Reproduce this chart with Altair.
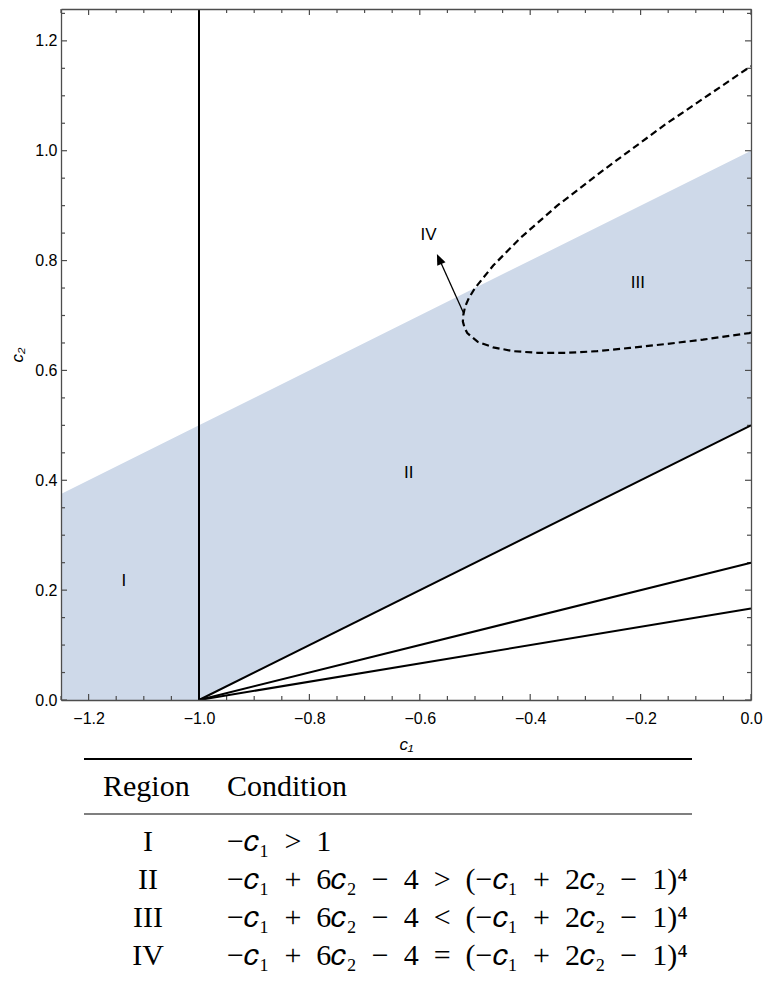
import altair as alt
import pandas as pd

# ---------------- data ----------------
band_c1 = [-1.25, -1.0, 0.0]
band_lower = [0.0, 0.0, 0.5]
band_upper = [0.375, 0.5, 1.0]

boundary_c1 = [-1.0]

ray_start_c1 = -1.0
ray_start_c2 = 0.0
ray_end_c1 = [0.0, 0.0, 0.0]
ray_end_c2 = [0.5, 0.25, 0.1667]

curve_c1 = [0.0, -0.0033, -0.0175, -0.087, -0.155, -0.219, -0.279, -0.335, -0.386,
            -0.430, -0.467, -0.495, -0.514, -0.519, -0.522, -0.521, -0.518, -0.511,
            -0.500, -0.467, -0.418, -0.351, -0.263, -0.155, -0.022, 0.0]
curve_c2 = [0.669, 0.668, 0.666, 0.656, 0.648, 0.641, 0.635, 0.632, 0.632,
            0.635, 0.642, 0.652, 0.668, 0.678, 0.689, 0.702, 0.716, 0.732,
            0.750, 0.791, 0.841, 0.900, 0.968, 1.048, 1.139, 1.154]

arrow_c1 = [-0.521, -0.564]
arrow_c2 = [0.705, 0.801]
arrow_tip_c1 = [-0.569]
arrow_tip_c2 = [0.812]

label_text = ["I", "II", "III", "IV"]
label_c1 = [-1.136, -0.620, -0.205, -0.584]
label_c2 = [0.217, 0.413, 0.759, 0.846]

x_major = [-1.2, -1.0, -0.8, -0.6, -0.4, -0.2, 0.0]
x_minor = [-1.25, -1.15, -1.1, -1.05, -0.95, -0.9, -0.85, -0.75, -0.7, -0.65,
           -0.55, -0.5, -0.45, -0.35, -0.3, -0.25, -0.15, -0.1, -0.05]
y_major = [0.0, 0.2, 0.4, 0.6, 0.8, 1.0, 1.2]
y_minor = [0.05, 0.1, 0.15, 0.25, 0.3, 0.35, 0.45, 0.5, 0.55, 0.65, 0.7, 0.75,
           0.85, 0.9, 0.95, 1.05, 1.1, 1.15, 1.25]

table_header = ["Region", "Condition"]
table_regions = ["I", "II", "III", "IV"]
C = "\U0001D450"
SP = "\u2002"
table_conditions = [
    f"\u2212{C}\u2081{SP}>{SP}1",
    f"\u2212{C}\u2081{SP}+{SP}6{C}\u2082{SP}\u2212{SP}4{SP}>{SP}(\u2212{C}\u2081{SP}+{SP}2{C}\u2082{SP}\u2212{SP}1)\u2074",
    f"\u2212{C}\u2081{SP}+{SP}6{C}\u2082{SP}\u2212{SP}4{SP}<{SP}(\u2212{C}\u2081{SP}+{SP}2{C}\u2082{SP}\u2212{SP}1)\u2074",
    f"\u2212{C}\u2081{SP}+{SP}6{C}\u2082{SP}\u2212{SP}4{SP}={SP}(\u2212{C}\u2081{SP}+{SP}2{C}\u2082{SP}\u2212{SP}1)\u2074",
]

# ---------------- frames ----------------
band_df = pd.DataFrame({"c1": band_c1, "lo": band_lower, "hi": band_upper})
vline_df = pd.DataFrame({"c1": boundary_c1})
ray_rows = []
for i, (ex, ey) in enumerate(zip(ray_end_c1, ray_end_c2)):
    ray_rows.append({"ray": i, "c1": ray_start_c1, "c2": ray_start_c2})
    ray_rows.append({"ray": i, "c1": ex, "c2": ey})
ray_df = pd.DataFrame(ray_rows)
curve_df = pd.DataFrame({"c1": curve_c1, "c2": curve_c2, "k": list(range(len(curve_c1)))})
arrow_df = pd.DataFrame({"c1": arrow_c1, "c2": arrow_c2})
tip_df = pd.DataFrame({"c1": arrow_tip_c1, "c2": arrow_tip_c2})
label_df = pd.DataFrame({"c1": label_c1, "c2": label_c2, "t": label_text})
dummy_df = pd.DataFrame({"c1": [-1.0], "c2": [0.0]})
table_df = pd.DataFrame({"row": list(range(len(table_regions))),
                         "region": table_regions, "cond": table_conditions})

W, H = 690, 691
FRAME = "#4d4d4d"
SANS = "Liberation Sans"
SERIF = "Liberation Serif"
MAJ, MIN = 6, 4

xs = alt.Scale(domain=[-1.25, 0.0], nice=False, zero=False)
ys = alt.Scale(domain=[0.0, 1.258], nice=False, zero=False)

ax_x_labels = alt.Axis(orient="bottom", values=x_major, format=".1f", ticks=False,
                       domain=True, domainColor=FRAME, domainWidth=1.3, grid=False, zindex=1,
                       labelFont=SANS, labelFontSize=16, labelColor="black",
                       labelPadding=10, labelFlush=False, title="c\u2081",
                       titleFont=SANS, titleFontStyle="italic", titleFontWeight="normal",
                       titleFontSize=17, titleColor="black", titlePadding=10)
ax_y_labels = alt.Axis(orient="left", values=y_major, format=".1f", ticks=False,
                       domain=True, domainColor=FRAME, domainWidth=1.3, grid=False, zindex=1,
                       labelFont=SANS, labelFontSize=16, labelColor="black",
                       labelPadding=4, title="c\u2082",
                       titleFont=SANS, titleFontStyle="italic", titleFontWeight="normal",
                       titleFontSize=17, titleColor="black", titlePadding=8)
ax_x_top = alt.Axis(orient="top", ticks=False, labels=False, domain=True, domainColor=FRAME,
                    domainWidth=1.3, grid=False, zindex=1, title=None)
ax_y_right = alt.Axis(orient="right", ticks=False, labels=False, domain=True, domainColor=FRAME,
                      domainWidth=1.3, grid=False, zindex=1, title=None)

band = alt.Chart(band_df).mark_area(color="#ced9e9", opacity=1).encode(
    x=alt.X("c1:Q", scale=xs, axis=ax_x_labels),
    y=alt.Y("lo:Q", scale=ys, axis=ax_y_labels),
    y2="hi:Q",
)

frame_carrier = alt.Chart(dummy_df).mark_point(opacity=0, size=1).encode(
    x=alt.X("c1:Q", scale=xs, axis=ax_x_top),
    y=alt.Y("c2:Q", scale=ys, axis=ax_y_right),
)


def xticks(values, at_top, length):
    df = pd.DataFrame({"v": values})
    y0, y1 = (0, length) if at_top else (H, H - length)
    return alt.Chart(df).mark_rule(color=FRAME, strokeWidth=1.2).encode(
        x=alt.X("v:Q", scale=xs, axis=None), y=alt.value(y0), y2=alt.value(y1))


def yticks(values, at_right, length):
    df = pd.DataFrame({"v": values})
    x0, x1 = (W, W - length) if at_right else (0, length)
    return alt.Chart(df).mark_rule(color=FRAME, strokeWidth=1.2).encode(
        y=alt.Y("v:Q", scale=ys, axis=None), x=alt.value(x0), x2=alt.value(x1))


tick_layers = [
    xticks(x_major, False, MAJ), xticks(x_minor, False, MIN),
    xticks(x_major, True, MAJ), xticks(x_minor, True, MIN),
    yticks(y_major, False, MAJ), yticks(y_minor, False, MIN),
    yticks(y_major, True, MAJ), yticks(y_minor, True, MIN),
]

vline = alt.Chart(vline_df).mark_rule(color="black", strokeWidth=2).encode(
    x=alt.X("c1:Q", scale=xs, axis=None)
)

rays = alt.Chart(ray_df).mark_line(color="black", strokeWidth=2).encode(
    x=alt.X("c1:Q", scale=xs, axis=None),
    y=alt.Y("c2:Q", scale=ys, axis=None),
    detail="ray:N",
)

curve = alt.Chart(curve_df).mark_line(color="black", strokeWidth=2.2, strokeDash=[7, 4]).encode(
    x=alt.X("c1:Q", scale=xs, axis=None),
    y=alt.Y("c2:Q", scale=ys, axis=None),
    order="k:Q",
)

arrow = alt.Chart(arrow_df).mark_line(color="black", strokeWidth=1.3).encode(
    x=alt.X("c1:Q", scale=xs, axis=None),
    y=alt.Y("c2:Q", scale=ys, axis=None),
)

tip = alt.Chart(tip_df).mark_point(shape="M0,0L0.45,1.1L-0.45,1.1Z", size=400, angle=336,
                                   filled=True, color="black", opacity=1).encode(
    x=alt.X("c1:Q", scale=xs, axis=None),
    y=alt.Y("c2:Q", scale=ys, axis=None),
)

labels = alt.Chart(label_df).mark_text(font=SANS, fontSize=17, color="black").encode(
    x=alt.X("c1:Q", scale=xs, axis=None),
    y=alt.Y("c2:Q", scale=ys, axis=None),
    text="t:N",
)

plot = alt.layer(band, frame_carrier, *tick_layers, vline, rays, curve, arrow, tip, labels).resolve_axis(
    x="independent", y="independent"
).properties(width=W, height=H)

# ---------------- table ----------------
one = pd.DataFrame({"a": [0]})
FS = 30
top_rule = alt.Chart(one).mark_rule(color="black", strokeWidth=2).encode(
    x=alt.value(23), x2=alt.value(631), y=alt.value(5))
mid_rule = alt.Chart(one).mark_rule(color="black", strokeWidth=1.2).encode(
    x=alt.value(23), x2=alt.value(631), y=alt.value(60))
hdr_region = alt.Chart(pd.DataFrame({"t": [table_header[0]]})).mark_text(
    align="left", baseline="middle", font=SERIF, fontSize=FS, color="black").encode(
    x=alt.value(42), y=alt.value(33), text="t:N")
hdr_cond = alt.Chart(pd.DataFrame({"t": [table_header[1]]})).mark_text(
    align="left", baseline="middle", font=SERIF, fontSize=FS, color="black").encode(
    x=alt.value(166), y=alt.value(33), text="t:N")
row_y = alt.Y("row:Q", scale=alt.Scale(domain=[0, 3], range=[88, 202]), axis=None)
col_region = alt.Chart(table_df).mark_text(
    align="center", baseline="middle", font=SERIF, fontSize=FS, color="black").encode(
    x=alt.value(87), y=row_y, text="region:N")
col_cond = alt.Chart(table_df).mark_text(
    align="left", baseline="middle", font=SERIF, fontSize=FS, color="black").encode(
    x=alt.value(166), y=row_y, text="cond:N")

table = alt.layer(top_rule, mid_rule, hdr_region, hdr_cond, col_region, col_cond).properties(
    width=W, height=212)

chart = alt.vconcat(plot, table, spacing=2).configure_view(stroke=None).properties(
    padding={"left": 0, "top": 0, "right": 0, "bottom": 0})

chart.save("out.html", embed_options={"renderer": "svg", "actions": False})
